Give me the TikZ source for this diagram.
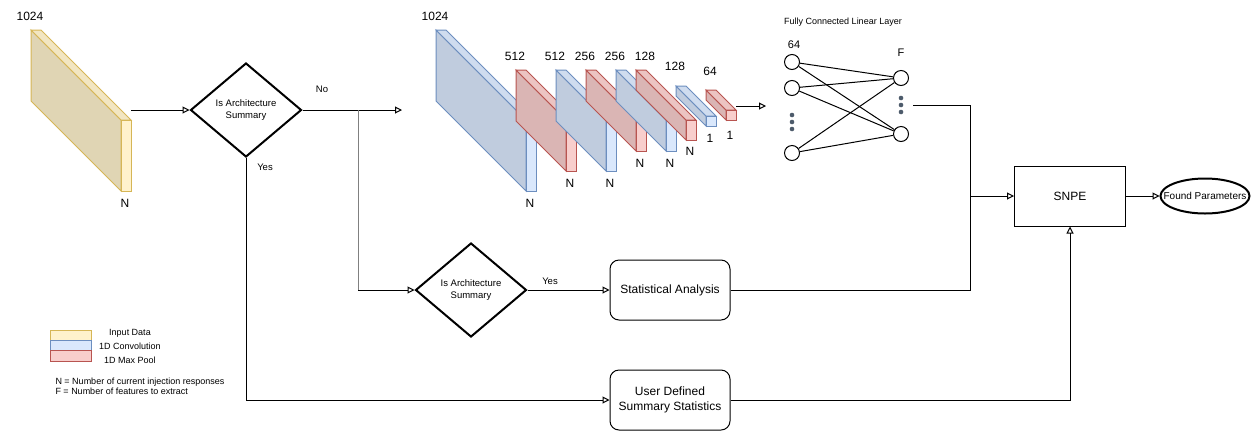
\documentclass[tikz,border=0pt]{standalone}
\usepackage{fontspec}
\setmainfont{Liberation Sans}
\usepackage{tikz}
\usetikzlibrary{arrows.meta,shapes.geometric}
\definecolor{datafill}{HTML}{FFF2CC}
\definecolor{dataline}{HTML}{D6B656}
\definecolor{convfill}{HTML}{DAE8FC}
\definecolor{convline}{HTML}{6C8EBF}
\definecolor{poolfill}{HTML}{F8CECC}
\definecolor{poolline}{HTML}{B85450}
\definecolor{dotcol}{HTML}{4D5B6B}
\definecolor{splitgray}{HTML}{808080}

% front face at (#1,#2), width #3, height #4, depth #5, fill #6, line #7
\newcommand{\slab}[7]{%
	\filldraw[draw=#7, fill=#6!88!black] (#1-#5,#2-#5) -- (#1,#2) -- (#1,#2+#4) -- (#1-#5,#2+#4-#5) -- cycle;
	\filldraw[draw=#7, fill=#6!95!black] (#1-#5,#2-#5) -- (#1-#5+#3,#2-#5) -- (#1+#3,#2) -- (#1,#2) -- cycle;
	\filldraw[draw=#7, fill=#6] (#1,#2) rectangle (#1+#3,#2+#4);
}

\begin{document}
\begin{tikzpicture}[x=1pt, y=-1pt, line width=1pt,
	flow/.style={-{Triangle[open, length=7pt, width=7pt]}},
	decision/.style={diamond, draw, line width=2pt, minimum width=111pt, minimum height=94pt, inner sep=0pt, align=center, font=\fontsize{9.5}{12}\selectfont},
	roundbox/.style={draw, rounded corners=9pt, minimum width=120pt, minimum height=60pt, align=center, font=\fontsize{12}{15}\selectfont},
	neuron/.style={circle, draw, minimum size=15pt, inner sep=0pt},
	dim/.style={font=\fontsize{12}{14}\selectfont},
	small/.style={font=\fontsize{9.5}{11}\selectfont},
	legend/.style={font=\fontsize{9}{10}\selectfont}]
	\useasboundingbox (0,0) rectangle (1252,432);

	% input data and convolution stack
	\slab{121}{120}{10}{71}{90}{datafill}{dataline}
	\slab{526}{120}{10}{71}{90}{convfill}{convline}
	\slab{566}{120}{10}{51}{50}{poolfill}{poolline}
	\slab{606}{120}{10}{51}{50}{convfill}{convline}
	\slab{636}{120}{10}{31}{50}{poolfill}{poolline}
	\slab{666}{120}{10}{31}{50}{convfill}{convline}
	\slab{686}{120}{10}{20}{50}{poolfill}{poolline}
	\slab{706}{116}{10}{10}{30}{convfill}{convline}
	\slab{726}{110}{10}{10}{20}{poolfill}{poolline}
	\foreach \x/\y/\t [count=\i] in {30/16/1024, 125/203/N, 435/16/1024, 530/203/N,
		515/56/512, 570/183/N, 555/56/512, 610/183/N, 585/56/256, 640/163/N,
		615/56/256, 670/163/N, 645/56/128, 690/151/N, 675/66/128, 710/138/1,
		710/71/64, 730/135/1}
		\node[dim] (dim\i) at (\x,\y) {\t};

	% decisions and boxes
	\node[decision] (dec1) at (246,110) {Is Architecture\\Summary};
	\node[decision] (dec2) at (471,290) {Is Architecture\\Summary};
	\node[roundbox] (stat) at (670,290) {Statistical Analysis};
	\node[roundbox] (user) at (670,400) {User Defined\\Summary Statistics};
	\node[draw, minimum width=111pt, minimum height=60pt, font=\fontsize{12}{14}\selectfont] (snpe) at (1070,196) {SNPE};
	\node[ellipse, draw, line width=2pt, minimum width=89pt, minimum height=35pt, inner sep=0pt,
		label={[font=\fontsize{10}{12}\selectfont]center:Found Parameters}] (found) at (1205,196) {};

	% fully connected layer
	\node[legend] (fctitle) at (843,22) {Fully Connected Linear Layer};
	\node[neuron] (in1) at (792,62) {};
	\node[neuron] (in2) at (792,88) {};
	\node[neuron] (in3) at (792,153) {};
	\node[neuron] (out1) at (901,78) {};
	\node[neuron] (out2) at (901,134) {};
	\node[font=\fontsize{11}{13}\selectfont] (inlab) at (794,45) {64};
	\node[font=\fontsize{11}{13}\selectfont] (outlab) at (901,53) {F};
	\foreach \a in {in1,in2,in3}
		\foreach \b in {out1,out2}
			\draw (\a) -- (\b);
	\foreach \y in {115,122,129} \fill[dotcol] (792,\y) circle (2.3pt);
	\foreach \y in {98,105,112} \fill[dotcol] (901,\y) circle (2.3pt);

	% connectors
	\coordinate (datout) at (131,110);
	\coordinate (split) at (358,110);
	\coordinate (bend) at (358,290);
	\coordinate (cnnin) at (402,110);
	\coordinate (cnnout) at (736,106);
	\coordinate (fcin) at (766,106);
	\coordinate (fcend) at (913,105);
	\coordinate (join) at (970,196);
	\draw[flow] (datout) -- (dec1.west);
	\draw[flow] (dec1.east) -- (cnnin);
	\draw[flow] (cnnout) -- (fcin);
	\draw[splitgray] (split) -- (bend);
	\draw[flow] (bend) -- (dec2.west);
	\draw[flow] (dec1.south) |- (user.west);
	\draw[flow] (dec2.east) -- (stat.west);
	\draw (stat.east) -| (join) |- (fcend);
	\draw[flow] (join) -- (snpe.west);
	\draw[flow] (user.east) -| (snpe.south);
	\draw[flow] (snpe.east) -- (found.west);
	\node[small] (no1) at (322,89) {No};
	\node[small] (yes1) at (265,167) {Yes};
	\node[small] (yes2) at (550,281) {Yes};

	% legend
	\filldraw[draw=dataline, fill=datafill] (50,330) rectangle (91,340);
	\filldraw[draw=convline, fill=convfill] (50,340) rectangle (91,350);
	\filldraw[draw=poolline, fill=poolfill] (50,350) rectangle (91,361);
	\node[legend] (leg1) at (130,333) {Input Data};
	\node[legend] (leg2) at (130,346) {1D Convolution};
	\node[legend] (leg3) at (130,360) {1D Max Pool};
	\node[legend, anchor=west, align=left, inner sep=0pt] (legkey) at (55,386.5) {N = Number of current injection responses\\F = Number of features to extract};
\end{tikzpicture}
\end{document}
